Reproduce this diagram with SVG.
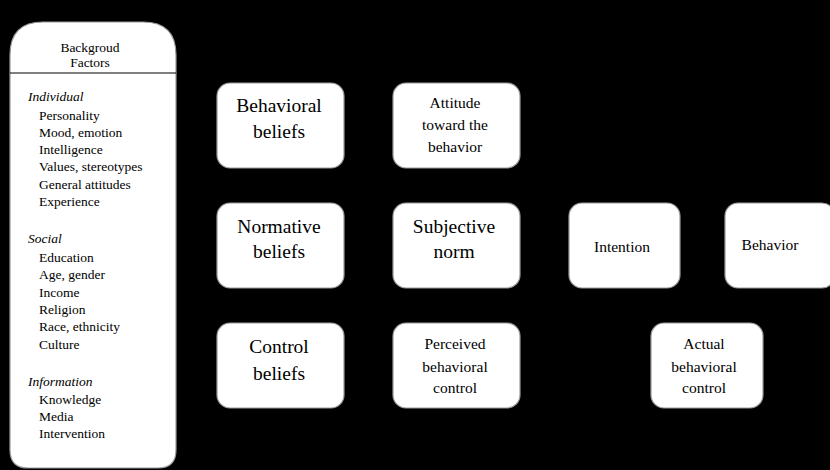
<svg xmlns="http://www.w3.org/2000/svg" width="830" height="470" viewBox="0 0 830 470" font-family="'Liberation Serif', 'DejaVu Serif', serif">
<defs>
<marker id="ah" markerWidth="8" markerHeight="8" refX="7" refY="4" orient="auto" markerUnits="userSpaceOnUse"><path d="M0,0 L8,4 L0,8 z" fill="#000"/></marker>
</defs>
<style>
.bg{fill:#000}
.box{fill:#fff;stroke:#9a9a9a;stroke-width:1.2}
text{font-family:'Liberation Serif','DejaVu Serif',serif;fill:#000}
.big{font-size:19.5px;text-anchor:middle}
.mid{font-size:15.5px;text-anchor:middle}
.sm{font-size:13.5px}
.it{font-style:italic}
.c{stroke:#000;stroke-width:1.2;fill:none;marker-end:url(#ah)}
</style>
<rect class="bg" x="0" y="0" width="830" height="470"/>
<g id="connectors">
<path class="c" d="M176,240 L217,127"/>
<path class="c" d="M176,240 L217,245"/>
<path class="c" d="M176,240 L217,365"/>
<path class="c" d="M344,127 L393,127"/>
<path class="c" d="M344,245 L393,245"/>
<path class="c" d="M344,365 L393,365"/>
<path class="c" d="M520,127 L569,245"/>
<path class="c" d="M520,245 L569,245"/>
<path class="c" d="M520,365 L569,245"/>
<path class="c" d="M680,245 L725,245"/>
<path class="c" d="M763,365 L777,288"/>
<path class="c" d="M520,385 L651,385" stroke-dasharray="4 3"/>
</g>
<g id="background-factors">
<path class="box" d="M10,55 Q10,22 43,22 L143,22 Q176,22 176,55 L176,450 Q176,468 158,468 L28,468 Q10,468 10,450 Z"/>
<line x1="10" y1="73" x2="176" y2="73" stroke="#000" stroke-width="1"/>
<text class="sm" x="90" y="52" text-anchor="middle">Backgroud</text>
<text class="sm" x="90" y="67" text-anchor="middle">Factors</text>
<text class="sm it" x="28" y="101">Individual</text>
<text class="sm" x="39" y="120">Personality</text>
<text class="sm" x="39" y="137">Mood, emotion</text>
<text class="sm" x="39" y="154">Intelligence</text>
<text class="sm" x="39" y="171">Values, stereotypes</text>
<text class="sm" x="39" y="189">General attitudes</text>
<text class="sm" x="39" y="206">Experience</text>
<text class="sm it" x="28" y="243">Social</text>
<text class="sm" x="39" y="262">Education</text>
<text class="sm" x="39" y="279">Age, gender</text>
<text class="sm" x="39" y="297">Income</text>
<text class="sm" x="39" y="314">Religion</text>
<text class="sm" x="39" y="331">Race, ethnicity</text>
<text class="sm" x="39" y="349">Culture</text>
<text class="sm it" x="28" y="386">Information</text>
<text class="sm" x="39" y="404">Knowledge</text>
<text class="sm" x="39" y="421">Media</text>
<text class="sm" x="39" y="438">Intervention</text>
</g>
<g id="behavioral-beliefs">
<rect class="box" x="217" y="83" width="127" height="85" rx="13"/>
<text class="big" x="279" y="112">Behavioral</text>
<text class="big" x="279" y="138">beliefs</text>
</g>
<g id="attitude">
<rect class="box" x="393" y="83" width="127" height="85" rx="13"/>
<text class="mid" x="455" y="108">Attitude</text>
<text class="mid" x="455" y="130">toward the</text>
<text class="mid" x="455" y="152">behavior</text>
</g>
<g id="normative-beliefs">
<rect class="box" x="217" y="203" width="127" height="85" rx="13"/>
<text class="big" x="279" y="233">Normative</text>
<text class="big" x="279" y="258">beliefs</text>
</g>
<g id="subjective-norm">
<rect class="box" x="393" y="203" width="127" height="85" rx="13"/>
<text class="big" x="454" y="233">Subjective</text>
<text class="big" x="454" y="258">norm</text>
</g>
<g id="control-beliefs">
<rect class="box" x="217" y="323" width="127" height="85" rx="13"/>
<text class="big" x="279" y="353">Control</text>
<text class="big" x="279" y="380">beliefs</text>
</g>
<g id="perceived-control">
<rect class="box" x="393" y="323" width="127" height="85" rx="13"/>
<text class="mid" x="455" y="349">Perceived</text>
<text class="mid" x="455" y="372">behavioral</text>
<text class="mid" x="455" y="393">control</text>
</g>
<g id="intention">
<rect class="box" x="569" y="203" width="111" height="85" rx="13"/>
<text class="mid" x="622" y="252">Intention</text>
</g>
<g id="behavior">
<rect class="box" x="725" y="203" width="110" height="85" rx="13"/>
<text class="mid" x="770" y="250">Behavior</text>
</g>
<g id="actual-control">
<rect class="box" x="651" y="323" width="112" height="85" rx="13"/>
<text class="mid" x="704" y="349">Actual</text>
<text class="mid" x="704" y="372">behavioral</text>
<text class="mid" x="704" y="393">control</text>
</g>
</svg>
